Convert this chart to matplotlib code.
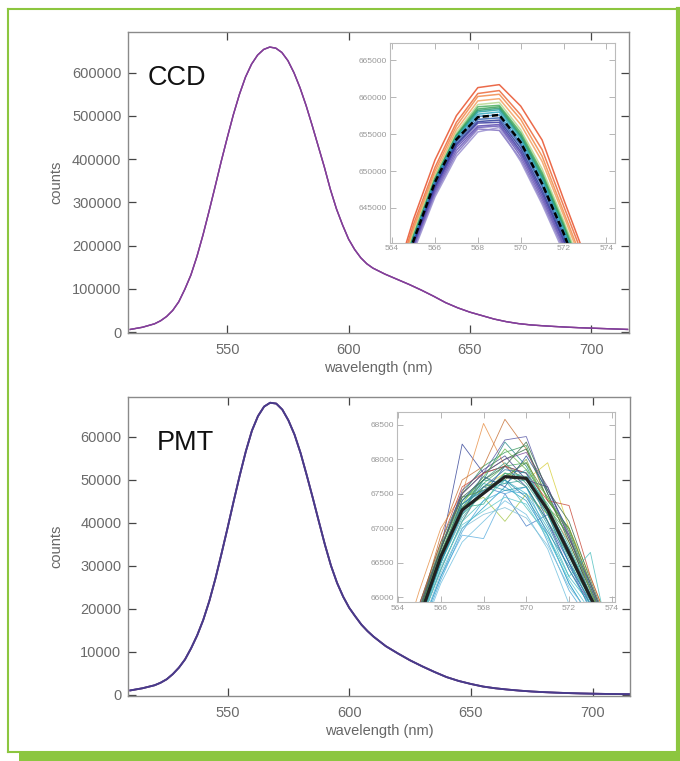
import matplotlib
matplotlib.use('Agg')
import matplotlib.pyplot as plt
from matplotlib.patches import Rectangle
from matplotlib.lines import Line2D

plt.rcParams['font.family'] = ['Liberation Sans', 'DejaVu Sans']

# full spectra (nm, counts)
wavelength = [510, 515, 520, 522.5, 525, 527.5, 530, 532.5, 535, 537.5, 540, 542.5,
              545, 547.5, 550, 552.5, 555, 557.5, 560, 562.5, 565, 567.5, 570,
              572.5, 575, 577.5, 580, 582.5, 585, 587.5, 590, 592.5, 595, 597.5,
              600, 602.5, 605, 607.5, 610, 615, 620, 625, 630, 635, 640, 645, 650,
              655, 660, 665, 670, 675, 680, 685, 690, 695, 700, 705, 710, 715]
ccd_counts = [6000, 11000, 19000, 26000, 36000, 50000, 70000, 99000, 132000, 175000,
              225000, 280000, 337000, 395000, 450000, 503000, 550000, 590000,
              620000, 641000, 654000, 659500, 657000, 647000, 628000, 600000,
              565000, 524000, 478000, 430000, 382000, 330000, 285000, 248000,
              215000, 191000, 172000, 158000, 148000, 134000, 122000, 110000,
              97000, 83000, 68000, 56000, 46000, 38000, 30000, 24000, 19500,
              16500, 14500, 12800, 11300, 10000, 9000, 8000, 7000, 6000]
pmt_counts = [1000, 1500, 2200, 2800, 3600, 4800, 6300, 8200, 10800, 13800, 17400,
              21800, 27000, 32800, 38800, 45000, 51000, 56600, 61400, 64800,
              67000, 67900, 67700, 66300, 63800, 60500, 56200, 51100, 45800,
              40300, 34900, 30000, 26000, 22800, 20200, 18200, 16300, 14800,
              13500, 11300, 9600, 8000, 6600, 5300, 4100, 3200, 2500, 1900,
              1500, 1200, 950, 750, 600, 480, 380, 300, 240, 190, 150, 120]

# zoom on the peak, one list per repeated scan
peak_wl = [564, 565, 566, 567, 568, 569, 570, 571, 572, 573, 574]
ccd_peak_scans = [
    [634000, 643500, 651500, 657500, 661300, 661700, 658800, 654200, 646200, 638500, 630000],
    [633500, 642800, 650500, 656600, 660500, 660900, 657600, 652900, 645300, 637800, 629500],
    [633000, 642300, 650000, 656100, 660100, 660400, 657000, 652000, 644500, 637000, 629000],
    [632800, 642000, 649500, 655600, 659500, 659800, 656300, 651300, 644000, 636500, 628500],
    [632500, 641600, 649300, 655200, 659000, 659300, 655600, 650300, 643300, 635800, 628000],
    [632300, 641300, 649000, 654900, 658700, 658900, 655200, 649800, 642900, 635300, 627500],
    [632200, 641100, 648900, 654800, 658400, 658700, 654900, 649500, 642600, 635000, 627300],
    [632150, 641000, 648800, 654700, 658200, 658500, 654700, 649200, 642400, 634800, 627100],
    [632100, 640900, 648700, 654600, 658000, 658300, 654500, 649000, 642200, 634700, 627000],
    [632000, 640800, 648600, 654500, 657700, 658000, 654200, 648700, 641900, 634400, 626800],
    [631900, 640600, 648400, 654200, 657400, 657600, 653800, 648200, 641500, 634000, 626300],
    [631800, 640400, 648200, 654000, 657000, 657200, 653500, 647900, 641200, 633700, 626000],
    [631600, 640200, 647900, 653700, 656700, 656900, 653100, 647400, 640800, 633300, 625700],
    [631500, 640000, 647700, 653500, 656500, 656600, 652700, 647000, 640500, 633000, 625500],
    [631300, 639800, 647400, 653200, 656100, 656300, 652400, 646600, 640100, 632600, 625000],
    [631100, 639600, 647100, 652800, 655900, 656100, 652000, 646200, 639800, 632300, 624800],
    [631000, 639400, 646800, 652400, 655700, 655500, 651600, 645800, 639400, 632000, 624500],
    [630800, 639100, 646500, 652000, 655300, 655900, 651300, 645500, 639000, 631700, 624200],
]
ccd_peak_mean = [632000, 640600, 648500, 654300, 657300, 657600, 653900, 648300, 641600, 634000, 626000]
pmt_peak_scans = [
    [65000, 65900, 66700, 68220, 67800, 67900, 67600, 67100, 66400, 65900, 65200],
    [65100, 66100, 67000, 67500, 68520, 67900, 67700, 67300, 66800, 66100, 65300],
    [65000, 65800, 66900, 67700, 67900, 68580, 68150, 67400, 67000, 66200, 65400],
    [64900, 65700, 66500, 67200, 67800, 68280, 68330, 67500, 66900, 66000, 65300],
    [64800, 65600, 66400, 67100, 67600, 67800, 67700, 67950, 67000, 66300, 65500],
    [64900, 65700, 66500, 67300, 67450, 67100, 67500, 67200, 66700, 66000, 65300],
    [64800, 65600, 66400, 67100, 67600, 67500, 67030, 67200, 66500, 65800, 65100],
    [64700, 65500, 66300, 66900, 66850, 67500, 67600, 66900, 66200, 65700, 65000],
    [65000, 65900, 66800, 67500, 67900, 68100, 68200, 67400, 67000, 66200, 65400],
    [64900, 65800, 66600, 67400, 67700, 68250, 67900, 67300, 66700, 66000, 65300],
    [65000, 65800, 66700, 67500, 67800, 68000, 68150, 67500, 66800, 66100, 65400],
    [64800, 65600, 66500, 67200, 67600, 67700, 67500, 67000, 66300, 65900, 65100],
    [64900, 65700, 66600, 67300, 67700, 67650, 67700, 67200, 66500, 66000, 65200],
    [64900, 65800, 66700, 67400, 67650, 67900, 67950, 67300, 66900, 66100, 65300],
    [64800, 65700, 66500, 67300, 67500, 67900, 67800, 67100, 66500, 65900, 65200],
    [64700, 65500, 66300, 67000, 67300, 67600, 67400, 66900, 66200, 65700, 65000],
    [64900, 65800, 66700, 67500, 67800, 68000, 68100, 67600, 66900, 66100, 65400],
    [64900, 65700, 66600, 67300, 67600, 67700, 68000, 67300, 67000, 66200, 65400],
    [64700, 65400, 66200, 66800, 67100, 67400, 67200, 66700, 65900, 65600, 65000],
    [64900, 65800, 66600, 67200, 67500, 67800, 67600, 67100, 66600, 66000, 65300],
    [65000, 65900, 66800, 67600, 67800, 67900, 67800, 67400, 67330, 66300, 65500],
    [64800, 65600, 66400, 67100, 67400, 67700, 67300, 66900, 66300, 66650, 65200],
    [64900, 65750, 66650, 67350, 67600, 67850, 67800, 67300, 66700, 66050, 65300],
    [64850, 65650, 66550, 67250, 67700, 67950, 67650, 67200, 66600, 65950, 65250],
    [64800, 65600, 66500, 67150, 67550, 67650, 67850, 67250, 66550, 65900, 65200],
    [64950, 65850, 66750, 67450, 67550, 67750, 67950, 67450, 66850, 66150, 65350],
    [64700, 65450, 66250, 66950, 67400, 67550, 67500, 66800, 66100, 65650, 65000],
    [64900, 65750, 66600, 67400, 67750, 67600, 68050, 67550, 66950, 66150, 65400],
    [64850, 65700, 66550, 67300, 67350, 67800, 67750, 67350, 66750, 66050, 65300],
    [64800, 65550, 66450, 67050, 67250, 67450, 67350, 66850, 66250, 65800, 65100],
    [65000, 65850, 66700, 67550, 67850, 68050, 67700, 67600, 66850, 66200, 65450],
    [64850, 65650, 66500, 67250, 67650, 67550, 67600, 67050, 66400, 65850, 65150],
    [64900, 65800, 66650, 67350, 67750, 68150, 67850, 67450, 66950, 66100, 65350],
    [64750, 65500, 66350, 67000, 67200, 67300, 67150, 66750, 66150, 65750, 65050],
    [64950, 65800, 66700, 67450, 67700, 67900, 68250, 67550, 67100, 66250, 65450],
    [64850, 65650, 66550, 67350, 67550, 67700, 67450, 66950, 66450, 65950, 65200],
]
pmt_peak_mean = [65100, 65700, 66590, 67265, 67507, 67748, 67724, 67265, 66638, 66000, 65400]

ccd_scan_colors = ['#e8502a', '#ec6a3a', '#f08a4a', '#f4a060', '#b8d890', '#4ab060',
                   '#3aa058', '#2e9a70', '#2aa0a0', '#30a8c0', '#2a80c0', '#3060b0',
                   '#2a3a9a', '#3a3aa0', '#5a4ab0', '#6a5ab8', '#8070c0', '#9a90d0']
pmt_scan_colors = ['#3b4a9a', '#e8924a', '#c8743a', '#5a5aa8', '#d8d040', '#a8c850',
                   '#4a80c8', '#60b0e0', '#3a9a5a', '#2a8a8a', '#2a6a3a', '#40b8c8',
                   '#30a0a0', '#50b060', '#3060b0', '#2aa0c8', '#7a4a9a', '#7aa040',
                   '#70c0e0', '#40a080', '#c84a3a', '#50c0c0', '#2a7aa0', '#3a9a80',
                   '#48b0b0', '#5a8a3a', '#4aa8d8', '#2a5a9a', '#3ab090', '#60c8d0',
                   '#4a4a8a', '#2a9ab0', '#6ab850', '#80c0d8', '#3a6a4a', '#2a8aa8']

GREEN = '#8cc63f'


def main():
    fig = plt.figure(figsize=(6.8, 7.61), dpi=100)
    draw_frame(fig)

    ax1 = fig.add_axes([0.1887, 0.5620, 0.7356, 0.3963])
    draw_main(ax1, ccd_counts, ['#d04a5a', '#4a4ab0', '#8a3a9a'], 1.0, (-3000, 695000),
              range(0, 700000, 100000), 'CCD', 0.039)
    ins1 = fig.add_axes([0.5735, 0.6811, 0.3309, 0.2620])
    draw_inset(ins1, ccd_peak_scans, ccd_scan_colors, ccd_peak_mean, (640300, 667300),
               range(645000, 666000, 5000), (563.9, 574.4), 1.1, ('k', 1.8, (2.5, 1.2)))

    ax2 = fig.add_axes([0.1887, 0.0854, 0.7378, 0.3933])
    draw_main(ax2, pmt_counts, ['#c04a5a', '#2a3a9a', '#4a3a8a'], 1.3, (-300, 69300),
              range(0, 70000, 10000), 'PMT', 0.057)
    ins2 = fig.add_axes([0.5838, 0.2093, 0.3206, 0.2497])
    draw_inset(ins2, pmt_peak_scans, pmt_scan_colors, pmt_peak_mean, (65935, 68690),
               range(66000, 69000, 500), (563.95, 574.15), 0.6, ('#222222', 2.3, None))

    fig.savefig('out.png', dpi=100)


def draw_frame(fig):
    lines = [([0.0122, 0.0122], [0.0112, 0.9882], 1.5),
             ([0.0122, 0.997], [0.9882, 0.9882], 1.5),
             ([0.997, 0.997], [0.0, 0.9882], 3.0),
             ([0.0122, 0.997], [0.0112, 0.0112], 1.5)]
    for xs, ys, lw in lines:
        fig.add_artist(Line2D(xs, ys, transform=fig.transFigure, color=GREEN, lw=lw))
    fig.add_artist(Rectangle((0.028, 0.0), 0.972, 0.0115, transform=fig.transFigure,
                             facecolor=GREEN, edgecolor='none'))


def draw_main(ax, counts, colors, lw, ylim, yticks, name, name_x):
    for c in colors:
        ax.plot(wavelength, counts, color=c, lw=lw, alpha=0.85)
    ax.set_xlim(509.2, 715.4)
    ax.set_ylim(*ylim)
    ax.set_xticks([550, 600, 650, 700])
    ax.set_yticks(list(yticks))
    for s in ax.spines.values():
        s.set_color('#8a8a8a')
        s.set_linewidth(1.0)
    ax.tick_params(direction='in', top=True, right=True, length=6, width=0.9,
                   color='#444444', labelcolor='#6a6a6a', labelsize=10.5)
    ax.tick_params(axis='x', pad=7)
    ax.tick_params(axis='y', pad=5)
    ax.set_xlabel('wavelength (nm)', color='#666666', fontsize=10.5, labelpad=3)
    ax.set_ylabel('counts', color='#666666', fontsize=10.5)
    ax.yaxis.set_label_coords(-0.13, 0.5)
    ax.text(name_x, 0.822, name, transform=ax.transAxes, fontsize=19.5,
            color='#111111', va='baseline', ha='left')


def draw_inset(ax, scans, colors, mean, ylim, yticks, xlim, lw, mean_style):
    for scan, c in zip(scans, colors):
        ax.plot(peak_wl, scan, color=c, lw=lw, alpha=0.85)
    mc, mlw, dash = mean_style
    line, = ax.plot(peak_wl, mean, color=mc, lw=mlw)
    if dash is not None:
        line.set_dashes(dash)
    ax.set_xlim(*xlim)
    ax.set_ylim(*ylim)
    ax.set_xticks(range(564, 575, 2))
    ax.set_yticks(list(yticks))
    for s in ax.spines.values():
        s.set_color('#bbbbbb')
        s.set_linewidth(0.8)
    ax.tick_params(direction='in', top=True, right=True, length=4, width=0.6,
                   color='#aaaaaa', labelcolor='#999999', labelsize=6, pad=2)


if __name__ == '__main__':
    main()
